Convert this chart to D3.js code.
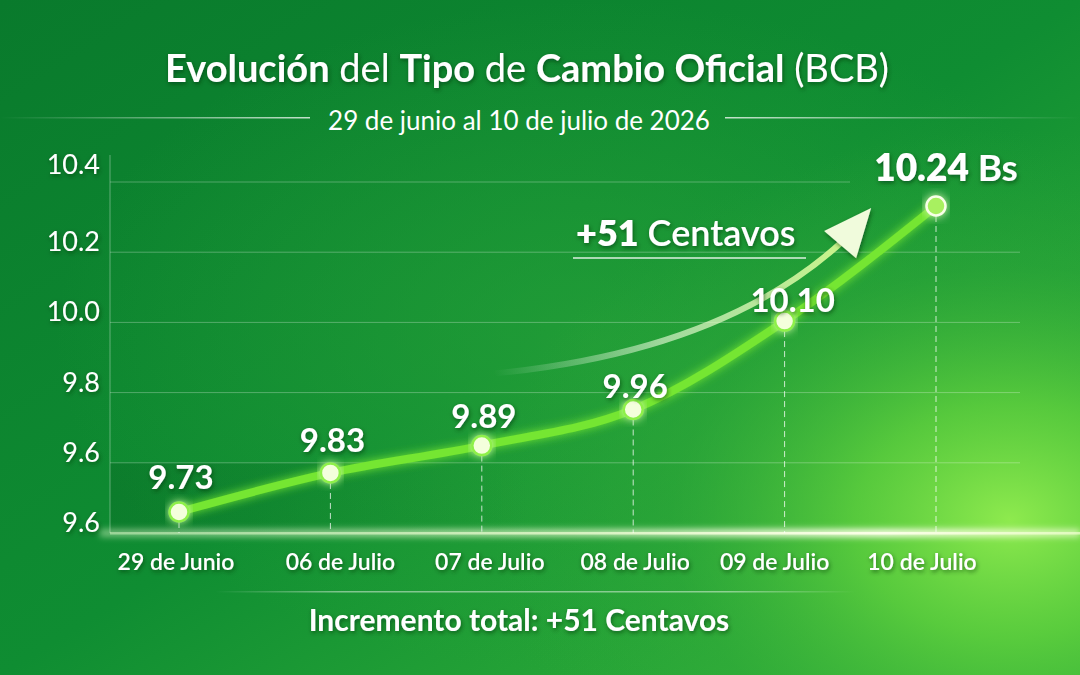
<!DOCTYPE html>
<html>
<head>
<meta charset="utf-8">
<script src="https://cdn.jsdelivr.net/npm/d3@7"></script>
<style>
  html, body { margin: 0; padding: 0; background: #0d8230; }
  svg { display: block; font-family: Lato, "Open Sans", sans-serif; }
</style>
</head>
<body>
<div id="chart"></div>
<script>
// Data
const dates = ["29 de Junio", "06 de Julio", "07 de Julio", "08 de Julio", "09 de Julio", "10 de Julio"];
const rates = [9.73, 9.83, 9.89, 9.96, 10.10, 10.24];
// tick labels exactly as printed (top to bottom)
const yTickLabels = ["10.4", "10.2", "10.0", "9.8", "9.6", "9.6"];

const W = 1080, H = 675;
const margin = { top: 182, right: 60, bottom: 142, left: 110 };

const svg = d3.select("#chart").append("svg")
    .attr("width", W)
    .attr("height", H);

const defs = svg.append("defs");

// background gradients
const bg = defs.append("linearGradient").attr("id", "bg")
    .attr("x1", 0).attr("y1", 0).attr("x2", 1).attr("y2", 1);
bg.append("stop").attr("offset", "0%").attr("stop-color", "#097a2c");
bg.append("stop").attr("offset", "50%").attr("stop-color", "#0f8d32");
bg.append("stop").attr("offset", "100%").attr("stop-color", "#3ab83a");

const glowBg = defs.append("radialGradient").attr("id", "glowBg")
    .attr("gradientUnits", "userSpaceOnUse")
    .attr("cx", 1010).attr("cy", 520).attr("r", 520)
    .attr("gradientTransform", "translate(1010,520) scale(1,0.75) translate(-1010,-520)");
glowBg.append("stop").attr("offset", "0%").attr("stop-color", "#8eea4e").attr("stop-opacity", 1);
glowBg.append("stop").attr("offset", "30%").attr("stop-color", "#62d23e").attr("stop-opacity", 0.8);
glowBg.append("stop").attr("offset", "65%").attr("stop-color", "#35ad3a").attr("stop-opacity", 0.35);
glowBg.append("stop").attr("offset", "100%").attr("stop-color", "#2aa53a").attr("stop-opacity", 0);

const midGlow = defs.append("radialGradient").attr("id", "midGlow")
    .attr("cx", 0.55).attr("cy", 0.5).attr("r", 0.5);
midGlow.append("stop").attr("offset", "0%").attr("stop-color", "#2fa83a").attr("stop-opacity", 0.55);
midGlow.append("stop").attr("offset", "100%").attr("stop-color", "#2fa83a").attr("stop-opacity", 0);

svg.append("rect").attr("width", W).attr("height", H).attr("fill", "url(#bg)");
svg.append("rect").attr("width", W).attr("height", H).attr("fill", "url(#midGlow)");
svg.append("rect").attr("width", W).attr("height", H).attr("fill", "url(#glowBg)");

// filters
const shadow = defs.append("filter").attr("id", "shadow")
    .attr("x", "-20%").attr("y", "-30%").attr("width", "140%").attr("height", "160%");
shadow.append("feDropShadow").attr("dx", 1).attr("dy", 2).attr("stdDeviation", 2)
    .attr("flood-color", "#04330f").attr("flood-opacity", 0.6);

const glow = defs.append("filter").attr("id", "glow")
    .attr("x", "-20%").attr("y", "-40%").attr("width", "140%").attr("height", "180%");
glow.append("feGaussianBlur").attr("stdDeviation", 5).attr("result", "blur");
const gm = glow.append("feMerge");
gm.append("feMergeNode").attr("in", "blur");
gm.append("feMergeNode").attr("in", "SourceGraphic");

const softBlur = defs.append("filter").attr("id", "softBlur")
    .attr("x", "-10%").attr("y", "-300%").attr("width", "120%").attr("height", "700%");
softBlur.append("feGaussianBlur").attr("stdDeviation", 3);

// title
const title = svg.append("text")
    .attr("x", 527).attr("y", 82)
    .attr("text-anchor", "middle")
    .attr("fill", "#fff")
    .attr("filter", "url(#shadow)")
    .style("font-size", "38px");
[["Evolución", 700], [" del ", 400], ["Tipo", 700], [" de ", 400],
 ["Cambio Oficial", 700], [" (BCB)", 400]].forEach(([t, w]) => {
    title.append("tspan").attr("font-weight", w).text(t);
});

// subtitle with side rules
svg.append("text")
    .attr("x", 519).attr("y", 130)
    .attr("text-anchor", "middle")
    .attr("fill", "#fff")
    .style("font-size", "26px")
    .text("29 de junio al 10 de julio de 2026");

const ruleL = defs.append("linearGradient").attr("id", "ruleL");
ruleL.append("stop").attr("offset", "0%").attr("stop-color", "#fff").attr("stop-opacity", 0);
ruleL.append("stop").attr("offset", "100%").attr("stop-color", "#fff").attr("stop-opacity", 0.75);
const ruleR = defs.append("linearGradient").attr("id", "ruleR");
ruleR.append("stop").attr("offset", "0%").attr("stop-color", "#fff").attr("stop-opacity", 0.75);
ruleR.append("stop").attr("offset", "100%").attr("stop-color", "#fff").attr("stop-opacity", 0);
const ruleC = defs.append("linearGradient").attr("id", "ruleC");
ruleC.append("stop").attr("offset", "0%").attr("stop-color", "#fff").attr("stop-opacity", 0);
ruleC.append("stop").attr("offset", "20%").attr("stop-color", "#fff").attr("stop-opacity", 0.45);
ruleC.append("stop").attr("offset", "80%").attr("stop-color", "#fff").attr("stop-opacity", 0.45);
ruleC.append("stop").attr("offset", "100%").attr("stop-color", "#fff").attr("stop-opacity", 0);

svg.append("rect").attr("x", 0).attr("y", 117).attr("width", 310).attr("height", 1.5).attr("fill", "url(#ruleL)");
svg.append("rect").attr("x", 725).attr("y", 117).attr("width", 355).attr("height", 1.5).attr("fill", "url(#ruleR)");

// scales
const x = d3.scalePoint()
    .domain(dates)
    .range([179, 936]);

// the picture stretches the top of the curve, a power scale gives that look
const y = d3.scalePow()
    .exponent(20)
    .domain(d3.extent(rates))
    .range([512, 206]);

// gridlines follow the printed tick labels, evenly spaced
const yGrid = d3.scalePoint()
    .domain(d3.range(yTickLabels.length))
    .range([margin.top, H - margin.bottom]);

const plotRight = 1020;
const baseY = yGrid(yTickLabels.length - 1);

// darker plot band near the bottom, fading out to the right
const bandGrad = defs.append("linearGradient").attr("id", "bandGrad");
bandGrad.append("stop").attr("offset", "0%").attr("stop-color", "#05551c").attr("stop-opacity", 0.25);
bandGrad.append("stop").attr("offset", "100%").attr("stop-color", "#05551c").attr("stop-opacity", 0);
svg.append("rect")
    .attr("x", margin.left).attr("y", yGrid(4))
    .attr("width", 420).attr("height", baseY - yGrid(4))
    .attr("fill", "url(#bandGrad)");

// horizontal gridlines
svg.append("g").attr("class", "grid")
    .selectAll("line")
    .data(d3.range(yTickLabels.length - 1))
    .enter()
    .append("line")
    .attr("x1", margin.left)
    .attr("x2", i => i === 0 ? 850 : plotRight)
    .attr("y1", i => yGrid(i))
    .attr("y2", i => yGrid(i))
    .attr("stroke", "#fff")
    .attr("stroke-opacity", 0.28)
    .attr("stroke-width", 1);

// y axis line and labels
svg.append("line")
    .attr("x1", margin.left).attr("x2", margin.left)
    .attr("y1", 155).attr("y2", baseY)
    .attr("stroke", "#fff").attr("stroke-opacity", 0.35);

svg.append("g").attr("class", "y-labels")
    .selectAll("text")
    .data(yTickLabels)
    .enter()
    .append("text")
    .attr("x", 100)
    .attr("y", (d, i) => yGrid(i) - (i === 0 ? 8 : 1))
    .attr("text-anchor", "end")
    .attr("fill", "#fff")
    .attr("filter", "url(#shadow)")
    .style("font-size", "27px")
    .text(d => d);

// glowing baseline
const baseGrad = defs.append("linearGradient").attr("id", "baseGrad");
baseGrad.append("stop").attr("offset", "0%").attr("stop-color", "#e8ffd0").attr("stop-opacity", 0.45);
baseGrad.append("stop").attr("offset", "50%").attr("stop-color", "#f4ffd8").attr("stop-opacity", 0.7);
baseGrad.append("stop").attr("offset", "80%").attr("stop-color", "#fbffe8").attr("stop-opacity", 1);
baseGrad.append("stop").attr("offset", "100%").attr("stop-color", "#f0ffd0").attr("stop-opacity", 0.7);

svg.append("rect")
    .attr("x", margin.left - 10).attr("y", baseY - 4)
    .attr("width", W - margin.left + 10).attr("height", 8)
    .attr("fill", "url(#baseGrad)")
    .attr("filter", "url(#softBlur)");
svg.append("rect")
    .attr("x", margin.left).attr("y", baseY - 1)
    .attr("width", W - margin.left).attr("height", 2.5)
    .attr("fill", "url(#baseGrad)");

// dashed drop lines
svg.append("g").attr("class", "drops")
    .selectAll("line")
    .data(rates)
    .enter()
    .append("line")
    .attr("x1", (d, i) => x(dates[i]))
    .attr("x2", (d, i) => x(dates[i]))
    .attr("y1", d => y(d) + 10)
    .attr("y2", baseY)
    .attr("stroke", "#fff")
    .attr("stroke-opacity", 0.75)
    .attr("stroke-dasharray", "6,4")
    .attr("stroke-width", 1);

// annotation arrow, placed from the data positions
const a0 = [x(dates[2]) + 12, y(rates[3]) - 36];
const a1 = [x(dates[5]) - 92, y(rates[5]) + 34];
const arrowGrad = defs.append("linearGradient").attr("id", "arrowGrad")
    .attr("gradientUnits", "userSpaceOnUse")
    .attr("x1", a0[0]).attr("y1", a0[1]).attr("x2", a1[0]).attr("y2", a1[1]);
arrowGrad.append("stop").attr("offset", "0%").attr("stop-color", "#fff").attr("stop-opacity", 0);
arrowGrad.append("stop").attr("offset", "45%").attr("stop-color", "#f2ffe0").attr("stop-opacity", 0.6);
arrowGrad.append("stop").attr("offset", "100%").attr("stop-color", "#c8f488").attr("stop-opacity", 1);

const ctrl = [a0[0] + 230, a0[1] - 22];
svg.append("path")
    .attr("d", `M${a0[0]},${a0[1]} Q${ctrl[0]},${ctrl[1]} ${a1[0]},${a1[1]}`)
    .attr("fill", "none")
    .attr("stroke", "url(#arrowGrad)")
    .attr("stroke-width", 6)
    .attr("stroke-linecap", "round");

// arrow head
const ang = Math.atan2(a1[1] - ctrl[1], a1[0] - ctrl[0]) - 0.12;
const tip = [a1[0] + 42 * Math.cos(ang), a1[1] + 42 * Math.sin(ang)];
const back = (len, off) => [
    a1[0] - len * Math.cos(ang) + off * Math.cos(ang + Math.PI / 2),
    a1[1] - len * Math.sin(ang) + off * Math.sin(ang + Math.PI / 2)
];
svg.append("path")
    .attr("d", d3.line()([tip, back(6, -21), back(6, 21)]) + "Z")
    .attr("fill", "#f0fbdc")
    .attr("filter", "url(#shadow)");

// increment label
const increment = Math.round((rates[rates.length - 1] - rates[0]) * 100);
const incText = svg.append("text")
    .attr("x", 576).attr("y", 246)
    .attr("fill", "#fff")
    .attr("filter", "url(#shadow)")
    .style("font-size", "36px");
incText.append("tspan").attr("font-weight", 800).text(`+${increment}`);
incText.append("tspan").attr("font-weight", 600).text(" Centavos");
svg.append("line")
    .attr("x1", 573).attr("x2", 806)
    .attr("y1", 258).attr("y2", 258)
    .attr("stroke", "#fff").attr("stroke-opacity", 0.85).attr("stroke-width", 1.5);

// main line
const line = d3.line()
    .x((d, i) => x(dates[i]))
    .y(d => y(d))
    .curve(d3.curveMonotoneX);

svg.append("path")
    .datum(rates)
    .attr("d", line)
    .attr("fill", "none")
    .attr("stroke", "#74e630")
    .attr("stroke-width", 8)
    .attr("stroke-linecap", "round")
    .attr("filter", "url(#glow)");

// markers
const last = rates.length - 1;
svg.append("g").attr("class", "points")
    .selectAll("circle")
    .data(rates)
    .enter()
    .append("circle")
    .attr("cx", (d, i) => x(dates[i]))
    .attr("cy", d => y(d))
    .attr("r", 9.5)
    .attr("fill", (d, i) => i === last ? "#a8f060" : "#f4ffdc")
    .attr("stroke", (d, i) => i === last ? "#f8ffe8" : "#8ef04a")
    .attr("stroke-width", 2.5)
    .attr("filter", "url(#glow)");

// value labels
const labelLift = [35, 33, 30, 23, 21];
svg.append("g").attr("class", "values")
    .selectAll("text")
    .data(rates.slice(0, last))
    .enter()
    .append("text")
    .attr("x", (d, i) => x(dates[i]) + (i === 4 ? 8 : 2))
    .attr("y", (d, i) => y(d) - labelLift[i] + 12)
    .attr("text-anchor", "middle")
    .attr("fill", "#fff")
    .attr("font-weight", 700)
    .attr("filter", "url(#shadow)")
    .style("font-size", "33px")
    .text(d => d.toFixed(2));

const topLabel = svg.append("text")
    .attr("x", x(dates[last]) + 10)
    .attr("y", y(rates[last]) - 25)
    .attr("text-anchor", "middle")
    .attr("fill", "#fff")
    .attr("filter", "url(#shadow)")
    .style("font-size", "37px");
topLabel.append("tspan").attr("font-weight", 800).text(rates[last].toFixed(2));
topLabel.append("tspan").attr("font-weight", 700).text(" Bs");

// x labels
svg.append("g").attr("class", "x-labels")
    .selectAll("text")
    .data(dates)
    .enter()
    .append("text")
    .attr("x", (d, i) => x(d) + (i === 1 ? 10 : i === 2 ? 8 : i === 3 ? 2 : i === 4 ? -10 : i === 5 ? -14 : -3))
    .attr("y", 570)
    .attr("text-anchor", "middle")
    .attr("fill", "#fff")
    .attr("font-weight", 600)
    .attr("filter", "url(#shadow)")
    .style("font-size", "23px")
    .text(d => d);

// bottom rule and summary
svg.append("rect").attr("x", 215).attr("y", 591).attr("width", 640).attr("height", 1.5).attr("fill", "url(#ruleC)");

svg.append("text")
    .attr("x", 519).attr("y", 631)
    .attr("text-anchor", "middle")
    .attr("fill", "#fff")
    .attr("font-weight", 700)
    .attr("filter", "url(#shadow)")
    .style("font-size", "30px")
    .text(`Incremento total: +${increment} Centavos`);
</script>
</body>
</html>
